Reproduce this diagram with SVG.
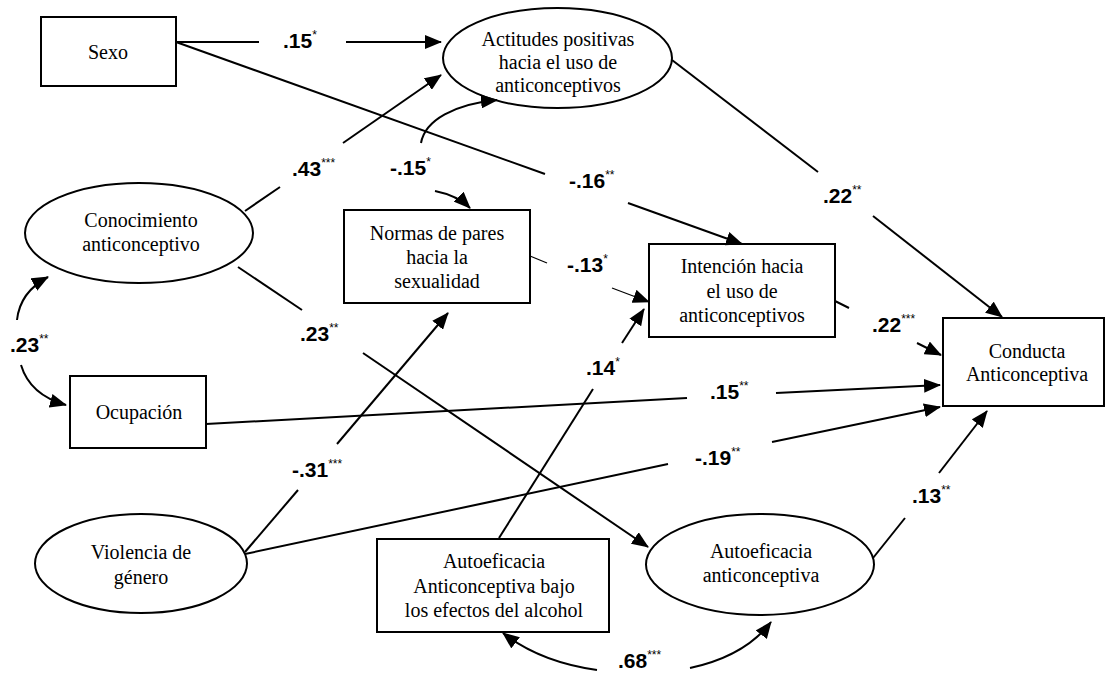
<svg xmlns="http://www.w3.org/2000/svg" width="1108" height="673" viewBox="0 0 1108 673">
<style>
.box{fill:#fff;stroke:#000;stroke-width:2}
.nt{font-family:"Liberation Serif","Times New Roman",serif;font-size:20px;text-anchor:middle;fill:#000}
.lbl{font-family:"Liberation Sans",Arial,sans-serif;font-size:21px;font-weight:bold;fill:#000}
.sup{font-size:12px;font-weight:normal}
.c{stroke:#000;stroke-width:2;fill:none}
.thin{stroke-width:1.2}
.a{marker-end:url(#ah)}
</style>
<defs>
<marker id="ah" markerUnits="userSpaceOnUse" markerWidth="17" markerHeight="14" refX="16" refY="7" orient="auto">
<path d="M0,0 L17,7 L0,14 z" fill="#000"/>
</marker>
</defs>
<rect width="1108" height="673" fill="#fff"/>
<g id="sexo"><rect class="box" x="41" y="17" width="135" height="69"/><text class="nt" x="108" y="59">Sexo</text></g>
<g id="actitudes"><ellipse class="box" cx="557.5" cy="58" rx="114.5" ry="50"/><text class="nt" x="558" y="46">Actitudes positivas</text><text class="nt" x="558" y="69">hacia el uso de</text><text class="nt" x="558" y="92">anticonceptivos</text></g>
<g id="conocimiento"><ellipse class="box" cx="139" cy="233" rx="114" ry="50"/><text class="nt" x="141" y="227">Conocimiento</text><text class="nt" x="141" y="251">anticonceptivo</text></g>
<g id="normas"><rect class="box" x="344" y="210" width="186" height="93"/><text class="nt" x="437" y="240">Normas de pares</text><text class="nt" x="437" y="264">hacia la</text><text class="nt" x="437" y="288">sexualidad</text></g>
<g id="intencion"><rect class="box" x="649" y="244" width="186" height="93"/><text class="nt" x="742" y="273">Intención hacia</text><text class="nt" x="742" y="298">el uso de</text><text class="nt" x="742" y="322">anticonceptivos</text></g>
<g id="conducta"><rect class="box" x="943" y="318" width="161" height="88"/><text class="nt" x="1027" y="358">Conducta</text><text class="nt" x="1027" y="381">Anticonceptiva</text></g>
<g id="ocupacion"><rect class="box" x="70" y="376" width="136" height="72"/><text class="nt" x="139" y="419">Ocupación</text></g>
<g id="violencia"><ellipse class="box" cx="141" cy="563.5" rx="106" ry="49.5"/><text class="nt" x="141" y="559">Violencia de</text><text class="nt" x="141" y="584">género</text></g>
<g id="alcohol"><rect class="box" x="377" y="539" width="232" height="93"/><text class="nt" x="494" y="568">Autoeficacia</text><text class="nt" x="494" y="593">Anticonceptiva bajo</text><text class="nt" x="494" y="617">los efectos del alcohol</text></g>
<g id="autoeficacia"><ellipse class="box" cx="760" cy="564.5" rx="114" ry="50.5"/><text class="nt" x="761" y="558">Autoeficacia</text><text class="nt" x="761" y="582">anticonceptiva</text></g>
<g id="connectors">
<line class="c" x1="176" y1="42" x2="259" y2="42"/><line class="c a" x1="346" y1="42" x2="441" y2="42"/>
<line class="c" x1="176" y1="42" x2="545" y2="174"/><line class="c a" x1="628" y1="203" x2="742" y2="244"/>
<line class="c" x1="245" y1="211" x2="280" y2="187"/><line class="c a" x1="343" y1="143" x2="441" y2="75"/>
<path class="c a" d="M421,143 C425,120 455,104 497,100"/>
<path class="c a" d="M435,191 C450,194 462,200 470,208"/>
<line class="c" x1="672" y1="60" x2="818" y2="172"/><line class="c a" x1="873" y1="216" x2="1002" y2="317"/>
<line class="c thin" x1="530" y1="256" x2="547" y2="263"/><line class="c thin a" x1="612" y1="288" x2="649" y2="302"/>
<line class="c" x1="238" y1="267" x2="302" y2="310"/><line class="c a" x1="363" y1="353" x2="648" y2="547"/>
<path class="c a" d="M17,320 Q20,292 48,277"/>
<path class="c a" d="M21,365 Q30,395 66,405"/>
<line class="c" x1="835" y1="301" x2="849" y2="308"/><line class="c a" x1="917" y1="343" x2="941" y2="355"/>
<line class="c" x1="206" y1="424" x2="687" y2="398"/><line class="c a" x1="776" y1="393" x2="940" y2="385"/>
<line class="c" x1="499" y1="538" x2="593" y2="389"/><line class="c a" x1="622" y1="343" x2="644" y2="309"/>
<line class="c" x1="245" y1="552" x2="298" y2="490"/><line class="c a" x1="337" y1="444" x2="448" y2="313"/>
<line class="c" x1="245" y1="554" x2="668" y2="464"/><line class="c a" x1="772" y1="442" x2="940" y2="407"/>
<line class="c" x1="873" y1="558" x2="905" y2="518"/><line class="c a" x1="939" y1="473" x2="987" y2="411"/>
<path class="c a" d="M597,670 Q540,662 503,633"/>
<path class="c a" d="M690,668 Q745,656 771,622"/>
</g>
<g id="labels">
<text class="lbl" x="283" y="48">.15<tspan class="sup" dy="-9">*</tspan></text>
<text class="lbl" x="292" y="176">.43<tspan class="sup" dy="-9">***</tspan></text>
<text class="lbl" x="390" y="175">-.15<tspan class="sup" dy="-9">*</tspan></text>
<text class="lbl" x="569" y="188">-.16<tspan class="sup" dy="-9">**</tspan></text>
<text class="lbl" x="823" y="203">.22<tspan class="sup" dy="-9">**</tspan></text>
<text class="lbl" x="567" y="272">-.13<tspan class="sup" dy="-9">*</tspan></text>
<text class="lbl" x="300" y="341">.23<tspan class="sup" dy="-9">**</tspan></text>
<text class="lbl" x="10" y="352">.23<tspan class="sup" dy="-9">**</tspan></text>
<text class="lbl" x="872" y="332">.22<tspan class="sup" dy="-9">***</tspan></text>
<text class="lbl" x="586" y="375">.14<tspan class="sup" dy="-9">*</tspan></text>
<text class="lbl" x="710" y="399">.15<tspan class="sup" dy="-9">**</tspan></text>
<text class="lbl" x="292" y="477">-.31<tspan class="sup" dy="-9">***</tspan></text>
<text class="lbl" x="695" y="465">-.19<tspan class="sup" dy="-9">**</tspan></text>
<text class="lbl" x="912" y="503">.13<tspan class="sup" dy="-9">**</tspan></text>
<text class="lbl" x="618" y="668">.68<tspan class="sup" dy="-9">***</tspan></text>
</g>
</svg>
